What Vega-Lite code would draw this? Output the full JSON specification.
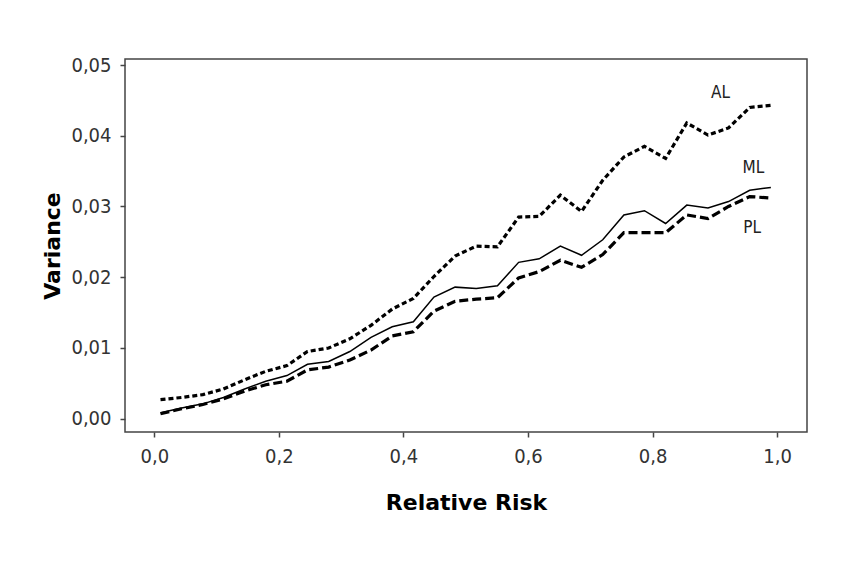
{
  "$schema": "https://vega.github.io/schema/vega-lite/v6.json",
  "width": 682,
  "height": 373,
  "autosize": {"type": "none"},
  "padding": {"left": 125, "top": 59, "right": 61, "bottom": 147},
  "background": "white",
  "config": {
    "locale": {"number": {"decimal": ",", "thousands": ".", "grouping": [3], "currency": ["", " €"]}},
    "view": {"stroke": "#444", "strokeWidth": 1.5},
    "axis": {
      "grid": false,
      "domain": false,
      "tickColor": "#444",
      "tickSize": 5,
      "tickWidth": 1.5,
      "labelFont": "DejaVu Sans Condensed, DejaVu Sans",
      "labelFontSize": 20,
      "labelColor": "#333",
      "titleFont": "DejaVu Sans",
      "titleFontSize": 22,
      "titleFontWeight": "bold",
      "titleColor": "#000"
    }
  },
  "datasets": {
    "curves": [
      {"x": 0.010, "v": 0.0027, "s": "AL"}, {"x": 0.044, "v": 0.0030, "s": "AL"}, {"x": 0.078, "v": 0.0034, "s": "AL"},
      {"x": 0.111, "v": 0.0042, "s": "AL"}, {"x": 0.145, "v": 0.0055, "s": "AL"}, {"x": 0.179, "v": 0.0067, "s": "AL"},
      {"x": 0.213, "v": 0.0075, "s": "AL"}, {"x": 0.246, "v": 0.0095, "s": "AL"}, {"x": 0.280, "v": 0.0100, "s": "AL"},
      {"x": 0.314, "v": 0.0113, "s": "AL"}, {"x": 0.348, "v": 0.0132, "s": "AL"}, {"x": 0.382, "v": 0.0155, "s": "AL"},
      {"x": 0.416, "v": 0.0170, "s": "AL"}, {"x": 0.449, "v": 0.0201, "s": "AL"}, {"x": 0.483, "v": 0.0230, "s": "AL"},
      {"x": 0.517, "v": 0.0244, "s": "AL"}, {"x": 0.551, "v": 0.0243, "s": "AL"}, {"x": 0.585, "v": 0.0285, "s": "AL"},
      {"x": 0.618, "v": 0.0286, "s": "AL"}, {"x": 0.652, "v": 0.0316, "s": "AL"}, {"x": 0.686, "v": 0.0293, "s": "AL"},
      {"x": 0.720, "v": 0.0337, "s": "AL"}, {"x": 0.754, "v": 0.0370, "s": "AL"}, {"x": 0.787, "v": 0.0385, "s": "AL"},
      {"x": 0.821, "v": 0.0368, "s": "AL"}, {"x": 0.855, "v": 0.0418, "s": "AL"}, {"x": 0.889, "v": 0.0401, "s": "AL"},
      {"x": 0.922, "v": 0.0411, "s": "AL"}, {"x": 0.956, "v": 0.0440, "s": "AL"}, {"x": 0.990, "v": 0.0443, "s": "AL"},
      {"x": 0.010, "v": 0.00085, "s": "ML"}, {"x": 0.044, "v": 0.0015, "s": "ML"}, {"x": 0.078, "v": 0.0021, "s": "ML"},
      {"x": 0.111, "v": 0.0030, "s": "ML"}, {"x": 0.145, "v": 0.0042, "s": "ML"}, {"x": 0.179, "v": 0.0053, "s": "ML"},
      {"x": 0.213, "v": 0.0061, "s": "ML"}, {"x": 0.246, "v": 0.0077, "s": "ML"}, {"x": 0.280, "v": 0.0081, "s": "ML"},
      {"x": 0.314, "v": 0.0095, "s": "ML"}, {"x": 0.348, "v": 0.0115, "s": "ML"}, {"x": 0.382, "v": 0.0130, "s": "ML"},
      {"x": 0.416, "v": 0.0137, "s": "ML"}, {"x": 0.449, "v": 0.0172, "s": "ML"}, {"x": 0.483, "v": 0.0186, "s": "ML"},
      {"x": 0.517, "v": 0.0184, "s": "ML"}, {"x": 0.551, "v": 0.0188, "s": "ML"}, {"x": 0.585, "v": 0.0221, "s": "ML"},
      {"x": 0.618, "v": 0.0226, "s": "ML"}, {"x": 0.652, "v": 0.0244, "s": "ML"}, {"x": 0.686, "v": 0.0231, "s": "ML"},
      {"x": 0.720, "v": 0.0253, "s": "ML"}, {"x": 0.754, "v": 0.0288, "s": "ML"}, {"x": 0.787, "v": 0.0294, "s": "ML"},
      {"x": 0.821, "v": 0.0276, "s": "ML"}, {"x": 0.855, "v": 0.0302, "s": "ML"}, {"x": 0.889, "v": 0.0298, "s": "ML"},
      {"x": 0.922, "v": 0.0307, "s": "ML"}, {"x": 0.956, "v": 0.0323, "s": "ML"}, {"x": 0.990, "v": 0.0327, "s": "ML"},
      {"x": 0.010, "v": 0.0007, "s": "PL"}, {"x": 0.044, "v": 0.0014, "s": "PL"}, {"x": 0.078, "v": 0.0020, "s": "PL"},
      {"x": 0.111, "v": 0.0028, "s": "PL"}, {"x": 0.145, "v": 0.0039, "s": "PL"}, {"x": 0.179, "v": 0.0048, "s": "PL"},
      {"x": 0.213, "v": 0.0053, "s": "PL"}, {"x": 0.246, "v": 0.0069, "s": "PL"}, {"x": 0.280, "v": 0.0073, "s": "PL"},
      {"x": 0.314, "v": 0.0083, "s": "PL"}, {"x": 0.348, "v": 0.0097, "s": "PL"}, {"x": 0.382, "v": 0.0117, "s": "PL"},
      {"x": 0.416, "v": 0.0123, "s": "PL"}, {"x": 0.449, "v": 0.0152, "s": "PL"}, {"x": 0.483, "v": 0.0166, "s": "PL"},
      {"x": 0.517, "v": 0.0169, "s": "PL"}, {"x": 0.551, "v": 0.0171, "s": "PL"}, {"x": 0.585, "v": 0.0199, "s": "PL"},
      {"x": 0.618, "v": 0.0208, "s": "PL"}, {"x": 0.652, "v": 0.0224, "s": "PL"}, {"x": 0.686, "v": 0.0214, "s": "PL"},
      {"x": 0.720, "v": 0.0232, "s": "PL"}, {"x": 0.754, "v": 0.0263, "s": "PL"}, {"x": 0.787, "v": 0.0263, "s": "PL"},
      {"x": 0.821, "v": 0.0263, "s": "PL"}, {"x": 0.855, "v": 0.0288, "s": "PL"}, {"x": 0.889, "v": 0.0283, "s": "PL"},
      {"x": 0.922, "v": 0.0300, "s": "PL"}, {"x": 0.956, "v": 0.0314, "s": "PL"}, {"x": 0.990, "v": 0.0312, "s": "PL"}
    ],
    "labels": [
      {"x": 0.909, "v": 0.0460, "label": "AL"},
      {"x": 0.962, "v": 0.0354, "label": "ML"},
      {"x": 0.960, "v": 0.0270, "label": "PL"}
    ]
  },
  "encoding": {
    "x": {
      "field": "x", "type": "quantitative",
      "scale": {"domain": [-0.047, 1.048], "nice": false, "zero": false},
      "axis": {"values": [0, 0.2, 0.4, 0.6, 0.8, 1.0], "format": ".1f", "labelPadding": 9, "title": "Relative Risk", "titlePadding": 26}
    },
    "y": {
      "field": "v", "type": "quantitative",
      "scale": {"domain": [-0.00188, 0.05085], "nice": false, "zero": false},
      "axis": {"values": [0, 0.01, 0.02, 0.03, 0.04, 0.05], "format": ".2f", "labelPadding": 9, "title": "Variance", "titlePadding": 6}
    }
  },
  "layer": [
    {
      "data": {"name": "curves"},
      "transform": [{"filter": "datum.s === 'ML'"}],
      "mark": {"type": "line", "color": "black", "strokeWidth": 1.5}
    },
    {
      "data": {"name": "curves"},
      "transform": [{"filter": "datum.s === 'PL'"}],
      "mark": {"type": "line", "color": "black", "strokeWidth": 3.2, "strokeDash": [9, 4], "strokeCap": "butt"}
    },
    {
      "data": {"name": "curves"},
      "transform": [{"filter": "datum.s === 'AL'"}],
      "mark": {"type": "line", "color": "black", "strokeWidth": 3.2, "strokeDash": [5, 3], "strokeCap": "butt"}
    },
    {
      "data": {"name": "labels"},
      "mark": {"type": "text", "font": "DejaVu Sans Condensed, DejaVu Sans", "fontSize": 17, "color": "#222", "align": "center", "baseline": "middle"},
      "encoding": {
        "text": {"field": "label"}
      }
    }
  ]
}
